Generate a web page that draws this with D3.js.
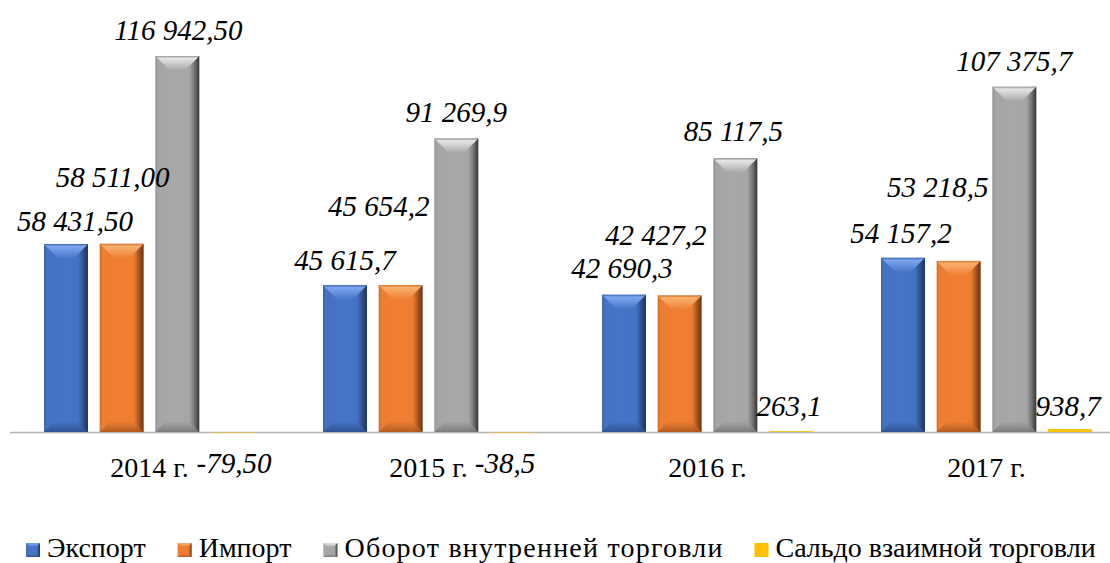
<!DOCTYPE html>
<html><head><meta charset="UTF-8"></head>
<body style="margin:0">
<div class="box"></div>
<script src="https://d3js.org/d3.v7.min.js"></script>
<script>
    const width = 1110;
    const height = 563;
    const FONT = 'Liberation Serif';

    // данные
    const years = ['2014 г.', '2015 г.', '2016 г.', '2017 г.'];
    const seriesNames = ['Экспорт', 'Импорт', 'Оборот внутренней торговли', 'Сальдо взаимной торговли'];
    const exportVals = [58431.5, 45615.7, 42690.3, 54157.2];
    const importVals = [58511.0, 45654.2, 42427.2, 53218.5];
    const turnoverVals = [116942.5, 91269.9, 85117.5, 107375.7];
    const saldoVals = [-79.5, -38.5, 263.1, 938.7];
    const labelDecimals = [2, 1, 1, 1];

    // сдвиги подписей (dx, dy) относительно вершины столбца
    const labelShift = [
        [[9, -13], [0, -15], [-2, -17], [-2, -15]],
        [[-9, -57], [-22, -69], [-24, -51], [-21, -64]],
        [[1, -16], [0, -17], [-2, -17], [0, -16]],
        [[1, 41], [-7, 41], [-2, -15], [-2, -13]]
    ];

    const allSeries = [exportVals, importVals, turnoverVals, saldoVals];
    const palette = [
        { base: '#4472C4', light: '#7ea6ee', dark: '#1c3461', bottom: '#2d4f8c' },
        { base: '#ED7D31', light: '#fbb06f', dark: '#6e320a', bottom: '#a9561f' },
        { base: '#A5A5A5', light: '#e6e6e6', dark: '#333333', bottom: '#767676' },
        { base: '#FFC000', light: '#FFC000', dark: '#FFC000', bottom: '#FFC000' }
    ];

    const ru = d3.formatLocale({ decimal: ',', thousands: ' ', grouping: [3], currency: ['', ''], minus: '-' });

    const svg = d3.select('.box')
        .append('svg')
        .attr('width', width)
        .attr('height', height)
        .style('display', 'block')
        .style('font-family', FONT);

    const x0 = d3.scaleBand().domain(years).range([10, 1126]);
    const x1 = d3.scaleBand().domain(seriesNames).range([34, 245]).paddingInner(0.21);
    const y = d3.scaleLinear().domain([0, 116942.5]).range([432, 56]);

    // градиенты для объёмных столбцов
    const defs = svg.append('defs');
    palette.forEach((c, i) => {
        const h = defs.append('linearGradient').attr('id', 'h' + i)
            .attr('x1', 0).attr('x2', 1).attr('y1', 0).attr('y2', 0);
        [[0, d3.color(c.base).darker(0.4)], [0.06, c.base], [0.5, d3.color(c.base).brighter(0.05)],
         [0.78, c.base], [0.9, d3.color(c.base).darker(1.1)], [1, c.dark]].forEach(s => {
            h.append('stop').attr('offset', s[0]).attr('stop-color', s[1]);
        });
        const t = defs.append('linearGradient').attr('id', 't' + i)
            .attr('x1', 0).attr('x2', 0).attr('y1', 0).attr('y2', 1);
        [[0, d3.color(c.base).darker(0.3)], [0.15, c.light], [1, c.base]].forEach(s => {
            t.append('stop').attr('offset', s[0]).attr('stop-color', s[1]);
        });
        const b = defs.append('linearGradient').attr('id', 'b' + i)
            .attr('x1', 0).attr('x2', 0).attr('y1', 0).attr('y2', 1);
        [[0, c.base], [1, c.bottom]].forEach(s => {
            b.append('stop').attr('offset', s[0]).attr('stop-color', s[1]);
        });
    });

    function bevelBar(g, i, x, top, w, bottom, bv) {
        const hgt = bottom - top;
        g.append('rect').attr('x', x).attr('y', top).attr('width', w).attr('height', Math.max(hgt, 0.5))
            .attr('fill', i === 3 ? palette[3].base : `url(#h${i})`);
        if (i === 3 || hgt < bv * 2) return;
        g.append('polygon')
            .attr('points', [[x, top], [x + w, top], [x + w - bv, top + bv], [x + bv, top + bv]].join(' '))
            .attr('fill', `url(#t${i})`);
        const bb = bv * 0.7;
        g.append('polygon')
            .attr('points', [[x + bb, bottom - bb], [x + w - bb, bottom - bb], [x + w, bottom], [x, bottom]].join(' '))
            .attr('fill', `url(#b${i})`).attr('opacity', 0.85);
    }

    // ось X
    svg.append('line')
        .attr('x1', 10).attr('x2', width)
        .attr('y1', y(0) + 0.5).attr('y2', y(0) + 0.5)
        .attr('stroke', '#b4b4b4').attr('stroke-width', 1.5);

    // столбцы
    const bars = svg.append('g');
    allSeries.forEach((vals, i) => {
        vals.forEach((v, j) => {
            const x = x0(years[j]) + x1(seriesNames[i]);
            const top = Math.min(y(v), y(0));
            const bottom = Math.max(y(v), y(0));
            bevelBar(bars, i, x, top, x1.bandwidth(), bottom, 15);
        });
    });

    // подписи значений
    const labels = svg.append('g');
    allSeries.forEach((vals, i) => {
        vals.forEach((v, j) => {
            const cx = x0(years[j]) + x1(seriesNames[i]) + x1.bandwidth() / 2;
            const fmt = ru.format(',.' + labelDecimals[j] + 'f');
            labels.append('text')
                .attr('x', cx + labelShift[i][j][0])
                .attr('y', y(Math.max(v, 0)) + labelShift[i][j][1])
                .attr('text-anchor', 'middle')
                .attr('font-size', 29)
                .style('font-family', FONT)
                .attr('font-style', 'italic')
                .text(fmt(v));
        });
    });

    // подписи категорий
    svg.append('g').selectAll('text').data(years).enter().append('text')
        .attr('x', d => x0(d) + x0.bandwidth() / 2)
        .attr('y', y(0) + 45)
        .attr('text-anchor', 'middle')
        .attr('font-size', 28)
        .style('font-family', FONT)
        .text(d => d);

    // легенда
    const legend = svg.append('g');
    let lx = 26;
    seriesNames.forEach((name, i) => {
        const item = legend.append('g');
        bevelBar(item, i, lx, 543, 14, 557, 4);
        const t = item.append('text')
            .attr('x', lx + 21)
            .attr('y', 557)
            .attr('font-size', 28)
            .style('font-family', FONT)
            .text(name);
        let tw = t.node().getComputedTextLength();
        // третья подпись в оригинале заметно шире
        if (i === 2) {
            tw = 378;
            t.attr('textLength', tw).attr('lengthAdjust', 'spacing');
        }
        lx += 21 + tw + 32;
    });
</script>
</body>
</html>
